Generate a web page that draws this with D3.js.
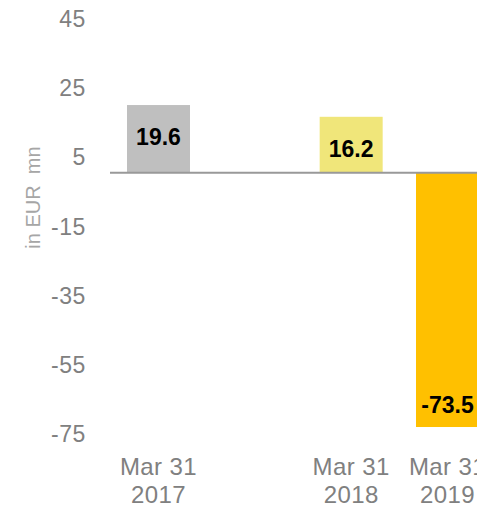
<!DOCTYPE html>
<html>
<head>
<meta charset="utf-8">
<script src="https://cdn.jsdelivr.net/npm/d3@7/dist/d3.min.js"></script>
<style>
  html, body { margin: 0; padding: 0; background: #fff; overflow: hidden; }
  svg { display: block; }
  text { font-family: "Liberation Sans", Arial, sans-serif; }
</style>
</head>
<body>
<script>
// Data
const categories = ["Mar 31|2017", "", "Mar 31|2018", "Mar 31|2019"];
const values = [19.6, null, 16.2, -73.5];
const labels = ["19.6", "", "16.2", "-73.5"];
const barColors = ["#bfbfbf", "none", "#f0e67a", "#ffc000"];
const yTicks = [45, 25, 5, -15, -35, -55, -75];
const yTitle = "in EUR  mn";

const W = 477, H = 510;
const svg = d3.select("body").append("svg").attr("width", W).attr("height", H);

const y = d3.scaleLinear().domain([-75, 45]).range([432.2, 17.2]);
const x = d3.scaleBand().domain(categories.map((c, i) => i))
  .range([110, 496]).paddingInner(0.346).paddingOuter(0.1765);

// y tick labels
svg.append("g").selectAll("text").data(yTicks).join("text")
  .attr("x", 86).attr("y", d => y(d)).attr("dy", "0.43em")
  .attr("text-anchor", "end").attr("font-size", 23).attr("letter-spacing", 0.6)
  .attr("fill", "#808080")
  .text(d => d);

// y title
svg.append("text")
  .attr("transform", `translate(40,197.5) rotate(-90)`)
  .attr("text-anchor", "middle").attr("font-size", 20).attr("fill", "#a6a6a6")
  .style("white-space", "pre")
  .text(yTitle);

// bars
const data = categories.map((c, i) => ({ c, i, v: values[i], label: labels[i], color: barColors[i] }))
  .filter(d => d.v !== null);

svg.append("g").selectAll("rect").data(data).join("rect")
  .attr("x", d => x(d.i)).attr("width", x.bandwidth())
  .attr("y", d => y(Math.max(0, d.v)))
  .attr("height", d => Math.abs(y(d.v) - y(0)))
  .attr("fill", d => d.color);

// zero line
svg.append("line")
  .attr("x1", x.range()[0]).attr("x2", x.range()[1])
  .attr("y1", y(0)).attr("y2", y(0))
  .attr("stroke", "#999999").attr("stroke-width", 2);

// value labels
svg.append("g").selectAll("text").data(data).join("text")
  .attr("x", d => x(d.i) + x.bandwidth() / 2)
  .attr("y", d => d.v >= 0 ? y(d.v) + 40 : y(d.v) - 14)
  .attr("text-anchor", "middle").attr("font-size", 23).attr("font-weight", "bold")
  .attr("fill", "#000").text(d => d.label);

// x labels
const xl = svg.append("g").selectAll("text").data(categories.map((c, i) => ({ c, i })).filter(d => d.c))
  .join("text")
  .attr("text-anchor", "middle").attr("font-size", 24).attr("letter-spacing", 0.4)
  .attr("fill", "#808080");
xl.each(function(d) {
  const parts = d.c.split("|");
  const t = d3.select(this);
  parts.forEach((p, k) => {
    t.append("tspan").attr("x", x(d.i) + x.bandwidth() / 2).attr("y", 475 + k * 28).text(p);
  });
});
</script>
</body>
</html>
